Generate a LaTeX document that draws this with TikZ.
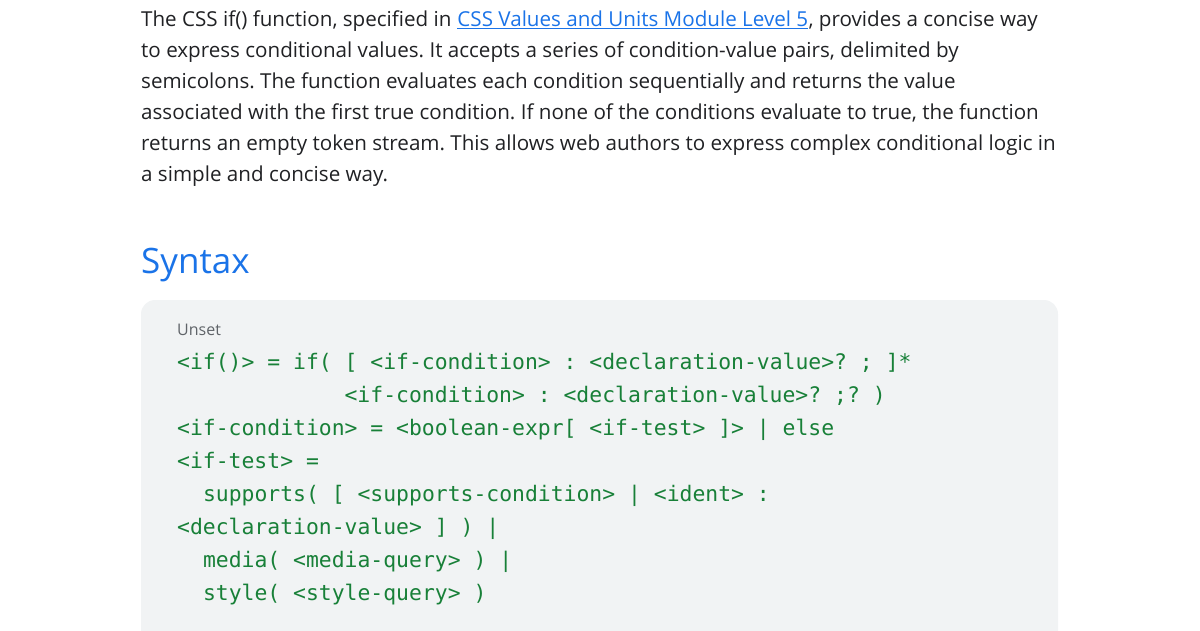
\documentclass[tikz,border=0pt]{standalone}
\usepackage{fontspec}
\setmainfont{Open Sans}
\newfontfamily\codefont{DejaVu Sans Mono}
\frenchspacing
\definecolor{bodytext}{HTML}{202124}
\definecolor{linkblue}{HTML}{1A73E8}
\definecolor{headblue}{HTML}{1A73E8}
\definecolor{codegreen}{HTML}{188038}
\definecolor{codebg}{HTML}{F1F3F4}
\definecolor{labelgray}{HTML}{5F6368}
\tikzset{
  body/.style={anchor=base west, inner sep=0pt, text=bodytext, font=\fontsize{20.6}{24}\selectfont},
  linktext/.style={body, text=linkblue},
  heading/.style={anchor=base west, inner sep=0pt, text=headblue, font=\fontsize{35}{40}\selectfont},
  codelabel/.style={anchor=base west, inner sep=0pt, text=labelgray, font=\fontsize{16}{18}\selectfont},
  codeline/.style={anchor=base west, inner sep=0pt, text=codegreen, font=\codefont\fontsize{21.4}{24}\selectfont\frenchspacing},
}
\begin{document}
\begin{tikzpicture}[x=1pt,y=-1pt]
\useasboundingbox (0,0) rectangle (1200,630);
\clip (0,0) rectangle (1200,630);
\fill[codebg, rounded corners=14pt] (141,300) rectangle (1058,680);
% paragraph
\node[body] (l1a) at (141,26) {The CSS if() function, specified in};
\node[linktext] (lk) at ([xshift=5.6pt]l1a.base east) {CSS Values and Units Module Level 5};
\node[body] (l1c) at (lk.base east) {, provides a concise way};
\draw[linkblue, line width=1.2pt] ([yshift=-2.5pt]lk.base west) -- ([yshift=-2.5pt]lk.base east);
\node[body] (l2) at (141,57) {to express conditional values. It accepts a series of condition-value pairs, delimited by};
\node[body] (l3) at (141,88) {semicolons. The function evaluates each condition sequentially and returns the value};
\node[body] (l4) at (141,119) {associated with the first true condition. If none of the conditions evaluate to true, the function};
\node[body] (l5) at (141,150) {returns an empty token stream. This allows web authors to express complex conditional logic in};
\node[body] (l6) at (141,181) {a simple and concise way.};
% heading
\node[heading] (syn) at (141,273) {Syntax};
% code block
\node[codelabel] (unset) at (177,335) {Unset};
\node[codeline] (c1) at (177,369) {<if()> = if( [ <if-condition> : <declaration-value>? ; ]*};
\node[codeline] (c2) at (344.4,402) {<if-condition> : <declaration-value>? ;? )};
\node[codeline] (c3) at (177,435) {<if-condition> = <boolean-expr[ <if-test> ]> | else};
\node[codeline] (c4) at (177,468) {<if-test> =};
\node[codeline] (c5) at (202.8,501) {supports( [ <supports-condition> | <ident> :};
\node[codeline] (c6) at (177,534) {<declaration-value> ] ) |};
\node[codeline] (c7) at (202.8,567) {media( <media-query> ) |};
\node[codeline] (c8) at (202.8,600) {style( <style-query> )};
\end{tikzpicture}
\end{document}
